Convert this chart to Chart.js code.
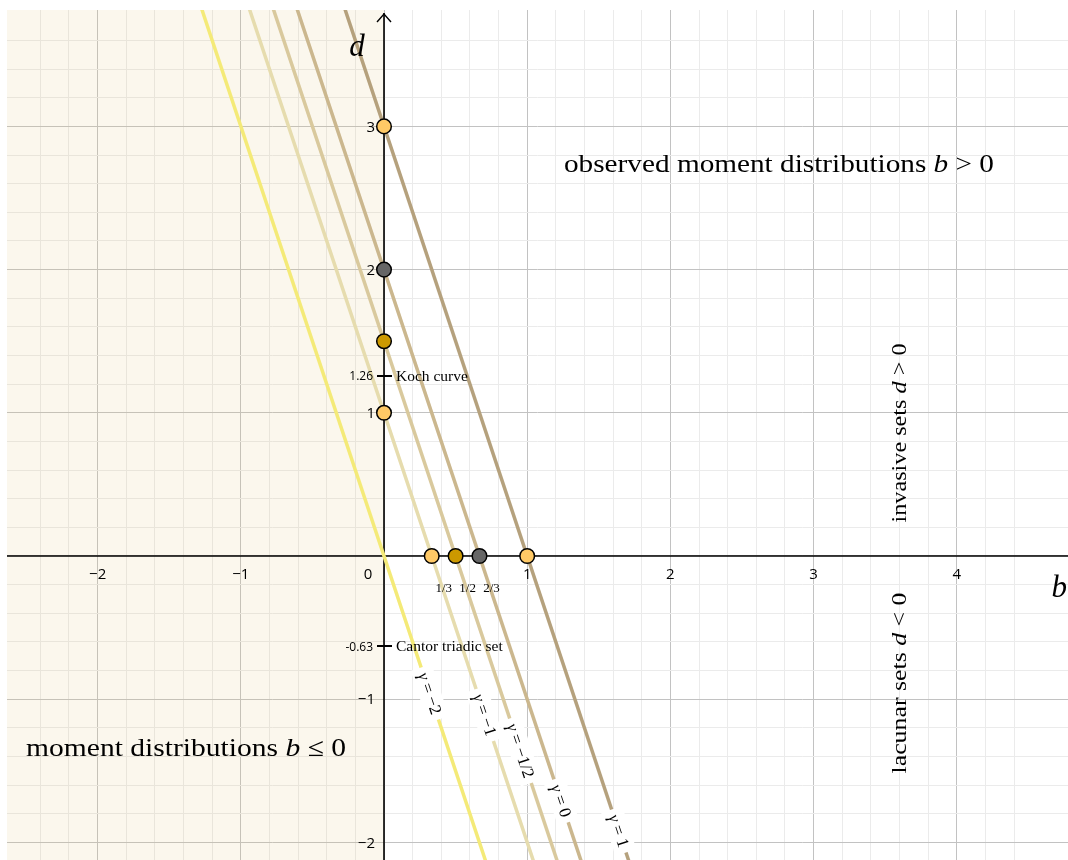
<!DOCTYPE html>
<html><head><meta charset="utf-8">
<script src="https://cdn.jsdelivr.net/npm/chart.js@4/dist/chart.umd.min.js"></script>
<style>html,body{margin:0;padding:0;background:#fff;overflow:hidden}#c{display:block}</style>
</head><body>
<canvas id="c" width="1068" height="860"></canvas>
<script>
// ---------------- data ----------------
const gammaNames = ['−2', '−1', '−1/2', '0', '1'];
const lineTopD = 4;        // every γ-line is drawn from d = 4 ...
const lineBottomD = -2.5;  // ... down to d = -2.5
const lineTopB = [-1.333, -1, -0.833, -0.667, -0.333];
const lineBottomB = [0.833, 1.167, 1.333, 1.5, 1.833];
const lineLabelD = [-0.96, -1.11, -1.36, -1.71, -1.92];

const dAxisPointsD = [3, 2, 1.5, 1];        // γ = 1, 0, -1/2, -1
const bAxisPointsB = [1/3, 1/2, 2/3, 1];    // γ = -1, -1/2, 0, 1
const fractionB = [1/3, 1/2, 2/3];
const fractionLabels = ['1/3', '1/2', '2/3'];

const xTickValues = [-2, -1, 0, 1, 2, 3, 4];
const xTickLabels = ['−2', '−1', '0', '1', '2', '3', '4'];
const yTickValues = [-2, -1, 1, 2, 3];
const yTickLabels = ['−2', '−1', '1', '2', '3'];
const markedD = [1.26, -0.63];
const markedDLabels = ['1.26', '-0.63'];
const markedNames = ['Koch curve', 'Cantor triadic set'];

const bRange = [-2.633, 4.777];
const dRange = [-2.123, 3.813];

// ---------------- styles ----------------
const lineColors = ['#f4ea78', '#e6dcae', '#d9c99d', '#cbb78e', '#b5a17d'];
const LIGHT = '#ffc966', GOLD = '#cc9900', GREY = '#666666';
const dPointColors = [LIGHT, GREY, GOLD, LIGHT];
const bPointColors = [LIGHT, GOLD, GREY, LIGHT];
const SERIF = '"Liberation Serif", "DejaVu Serif", serif';
const SANS = '"Open Sans", "Liberation Sans", sans-serif';

const datasets = [];
gammaNames.forEach((g, i) => {
  datasets.push({
    type: 'line', order: 2,
    data: [{x: lineTopB[i], y: lineTopD}, {x: lineBottomB[i], y: lineBottomD}],
    borderColor: lineColors[i], borderWidth: 3.5, pointRadius: 0, fill: false, clip: 0, tension: 0
  });
});
datasets.push({
  type: 'scatter', order: 1,
  data: dAxisPointsD.map(d => ({x: 0, y: d})),
  backgroundColor: dPointColors, borderColor: '#000', borderWidth: 1.5, pointRadius: 7.3, clip: false
});
datasets.push({
  type: 'scatter', order: 1,
  data: bAxisPointsB.map(b => ({x: b, y: 0})),
  backgroundColor: bPointColors, borderColor: '#000', borderWidth: 1.5, pointRadius: 7.3, clip: false
});

function gridColor(ctx) {
  const v = ctx.tick ? ctx.tick.value : NaN;
  const k = Math.round(v * 5);
  if (!isFinite(v) || Math.abs(v * 5 - k) > 1e-6) return 'rgba(0,0,0,0)';
  return (k % 5 === 0) ? '#c2c2c2' : '#ebebeb';
}

function drawRuns(ctx, runs, x, y, align, target) {
  let w = 0;
  const widths = runs.map(r => { ctx.font = r.f; const m = ctx.measureText(r.t).width; w += m; return m; });
  let sx = target ? target / w : 1;
  ctx.save();
  ctx.translate(x, y);
  ctx.scale(sx, 1);
  let cx = align === 'center' ? -w / 2 : (align === 'right' ? -w : 0);
  ctx.textAlign = 'left';
  runs.forEach((r, i) => { ctx.font = r.f; ctx.fillText(r.t, cx, 0); cx += widths[i]; });
  ctx.restore();
  return w * sx;
}

const geoPlugin = {
  id: 'geo',
  beforeDatasetsDraw(chart) {
    const {ctx, chartArea: a, scales: {x, y}} = chart;
    const x0 = x.getPixelForValue(0), y0 = y.getPixelForValue(0);
    ctx.save();
    // region b <= 0
    ctx.fillStyle = 'rgba(225,200,130,0.14)';
    ctx.fillRect(a.left, a.top, x0 - a.left, a.bottom - a.top);
    // axes
    ctx.strokeStyle = '#000';
    ctx.lineWidth = 1.6;
    ctx.beginPath();
    ctx.moveTo(a.left, y0); ctx.lineTo(a.right, y0);
    ctx.moveTo(x0, a.bottom); ctx.lineTo(x0, a.top + 3);
    ctx.stroke();
    ctx.lineWidth = 1.4;
    ctx.beginPath();
    ctx.moveTo(x0 - 7, a.top + 12); ctx.lineTo(x0, a.top + 4); ctx.lineTo(x0 + 7, a.top + 12);
    ctx.stroke();
    // marked ticks
    ctx.lineWidth = 2;
    markedD.forEach(d => {
      const py = Math.round(y.getPixelForValue(d));
      ctx.beginPath(); ctx.moveTo(x0 - 7, py); ctx.lineTo(x0 + 8, py); ctx.stroke();
    });
    ctx.restore();
  },
  afterDatasetsDraw(chart) {
    const {ctx, chartArea: a, scales: {x, y}} = chart;
    const x0 = x.getPixelForValue(0), y0 = y.getPixelForValue(0);
    ctx.save();
    ctx.fillStyle = '#000';
    // γ labels along lines
    gammaNames.forEach((g, i) => {
      const p1x = x.getPixelForValue(lineTopB[i]), p1y = y.getPixelForValue(lineTopD);
      const p2x = x.getPixelForValue(lineBottomB[i]), p2y = y.getPixelForValue(lineBottomD);
      const py = y.getPixelForValue(lineLabelD[i]);
      const t = (py - p1y) / (p2y - p1y);
      const px = p1x + t * (p2x - p1x);
      const ang = Math.atan2(p2y - p1y, p2x - p1x);
      const runs = [{t: 'γ', f: 'italic 17px ' + SERIF}, {t: ' = ' + g, f: '17px ' + SERIF}];
      let w = 0; runs.forEach(r => { ctx.font = r.f; w += ctx.measureText(r.t).width; });
      ctx.save();
      ctx.translate(px, py); ctx.rotate(ang);
      ctx.fillStyle = '#fff';
      ctx.fillRect(-w / 2 - 6, -11, w + 12, 22);
      ctx.fillStyle = '#000';
      ctx.textBaseline = 'middle';
      drawRuns(ctx, runs, 0, 1, 'center');
      ctx.restore();
    });
    // tick labels
    ctx.font = '15px ' + SANS;
    ctx.textBaseline = 'alphabetic';
    ctx.textAlign = 'center';
    xTickValues.forEach((v, i) => {
      let px = x.getPixelForValue(v);
      if (v === 0) px -= 16;
      ctx.fillText(xTickLabels[i], px, y0 + 23);
    });
    ctx.textAlign = 'right';
    ctx.textBaseline = 'middle';
    yTickValues.forEach((v, i) => {
      ctx.fillText(yTickLabels[i], x0 - 9, y.getPixelForValue(v) + 1);
    });
    ctx.font = '12px ' + SANS;
    markedD.forEach((d, i) => ctx.fillText(markedDLabels[i], x0 - 11, y.getPixelForValue(d) + 1));
    ctx.textAlign = 'left';
    ctx.font = '15.5px ' + SERIF;
    markedD.forEach((d, i) => ctx.fillText(markedNames[i], x0 + 12, y.getPixelForValue(d) + 1));
    // fraction labels
    ctx.textAlign = 'center';
    ctx.font = '13px ' + SERIF;
    fractionB.forEach((b, i) => ctx.fillText(fractionLabels[i], x.getPixelForValue(b) + 12, y0 + 33));
    // axis names
    ctx.textBaseline = 'alphabetic';
    drawRuns(ctx, [{t: 'd', f: 'italic 31px ' + SERIF}], x0 - 27, a.top + 46, 'center');
    drawRuns(ctx, [{t: 'b', f: 'italic 31px ' + SERIF}], a.right - 1, y0 + 41, 'right');
    // region texts
    const big = '26px ' + SERIF, bigI = 'italic 26px ' + SERIF;
    drawRuns(ctx, [{t: 'observed moment distributions ', f: big}, {t: 'b', f: bigI}, {t: ' > 0', f: big}],
      x.getPixelForValue(1.257), y.getPixelForValue(2.68), 'left', 430);
    drawRuns(ctx, [{t: 'moment distributions ', f: big}, {t: 'b', f: bigI}, {t: ' ≤ 0', f: big}],
      x.getPixelForValue(-2.5), y.getPixelForValue(-1.397), 'left', 320);
    const mid = '22px ' + SERIF, midI = 'italic 22px ' + SERIF;
    [[0.859, 'invasive sets ', ' > 0', 179], [-0.887, 'lacunar sets ', ' < 0', 181]].forEach(([d, a1, a2, tw]) => {
      ctx.save();
      ctx.translate(x.getPixelForValue(3.645), y.getPixelForValue(d));
      ctx.rotate(-Math.PI / 2);
      drawRuns(ctx, [{t: a1, f: mid}, {t: 'd', f: midI}, {t: a2, f: mid}], 0, 0, 'center', tw);
      ctx.restore();
    });
    ctx.restore();
  }
};

new Chart(document.getElementById('c'), {
  data: { datasets },
  options: {
    responsive: false, animation: false, devicePixelRatio: 1,
    layout: { autoPadding: false, padding: { left: 7, top: 10, right: 0, bottom: 0 } },
    plugins: { legend: { display: false }, tooltip: { enabled: false } },
    scales: {
      x: { type: 'linear', min: bRange[0], max: bRange[1],
           ticks: { display: false, stepSize: 0.2 },
           grid: { color: gridColor, lineWidth: 1, drawTicks: false }, border: { display: false } },
      y: { type: 'linear', min: dRange[0], max: dRange[1],
           ticks: { display: false, stepSize: 0.2 },
           grid: { color: gridColor, lineWidth: 1, drawTicks: false }, border: { display: false } }
    }
  },
  plugins: [geoPlugin]
});
</script>
</body></html>
